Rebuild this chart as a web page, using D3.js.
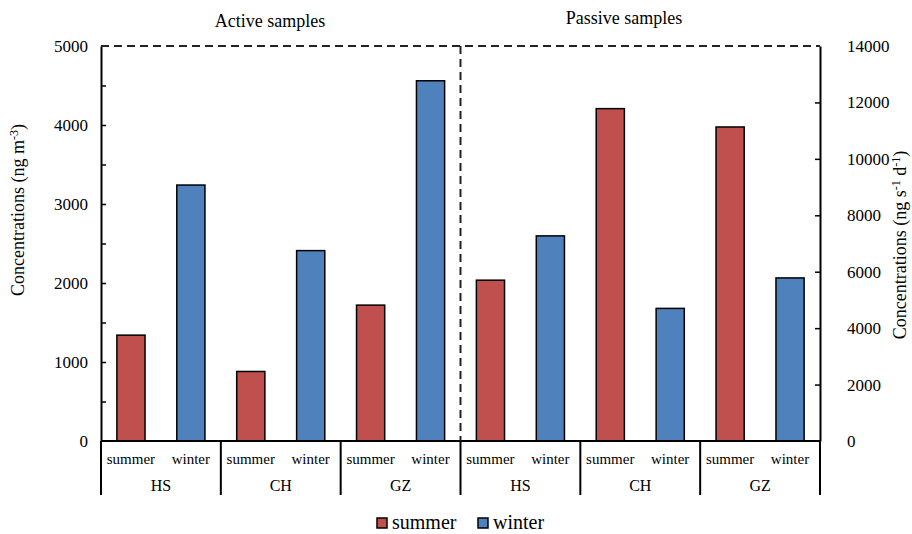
<!DOCTYPE html>
<html>
<head>
<meta charset="utf-8">
<script src="https://cdn.jsdelivr.net/npm/d3@7"></script>
<style>
  body { margin: 0; background: #fff; }
</style>
</head>
<body>
<div id="chart"></div>
<script>
// data
var sites = ["HS", "CH", "GZ"];
var seasons = ["summer", "winter"];
var panels = ["Active samples", "Passive samples"];
var activeSummer = [1340, 880, 1720];
var activeWinter = [3240, 2410, 4560];
var passiveSummer = [5700, 11780, 11130];
var passiveWinter = [7270, 4700, 5780];
var leftTicks = [0, 1000, 2000, 3000, 4000, 5000];
var rightTicks = [0, 2000, 4000, 6000, 8000, 10000, 12000, 14000];

var colors = { summer: "#C0504D", winter: "#4F81BD" };
var FONT = "'Liberation Serif', 'Times New Roman', serif";

var W = 912, H = 534;
var x0 = 101, x1 = 820, yTop = 46, yBase = 441;

var svg = d3.select("#chart").append("svg").attr("width", W).attr("height", H)
  .attr("font-family", FONT);

// groups: panel + site
var groups = [];
panels.forEach(function (p, pi) {
  sites.forEach(function (s, si) {
    groups.push({ key: p + "-" + s, panel: pi, site: s,
      summer: pi == 0 ? activeSummer[si] : passiveSummer[si],
      winter: pi == 0 ? activeWinter[si] : passiveWinter[si] });
  });
});

var xg = d3.scaleBand().domain(groups.map(function (d) { return d.key; })).range([x0, x1]);
var xs = d3.scaleBand().domain(seasons).range([0, xg.bandwidth()]).paddingInner(0.53).paddingOuter(0.265);

var yL = d3.scaleLinear().domain([0, 5000]).range([yBase, yTop]);
var yR = d3.scaleLinear().domain([0, 14000]).range([yBase, yTop]);

// bars
var g = svg.selectAll(".grp").data(groups).enter().append("g")
  .attr("transform", function (d) { return "translate(" + xg(d.key) + ",0)"; });

g.selectAll("rect").data(function (d) {
  return seasons.map(function (s) { return { season: s, value: d[s], panel: d.panel }; });
}).enter().append("rect")
  .attr("x", function (d) { return xs(d.season); })
  .attr("width", xs.bandwidth())
  .attr("y", function (d) { return (d.panel == 0 ? yL : yR)(d.value); })
  .attr("height", function (d) { return yBase - (d.panel == 0 ? yL : yR)(d.value); })
  .attr("fill", function (d) { return colors[d.season]; })
  .attr("stroke", "#000").attr("stroke-width", 1.5);

// left axis
var axL = svg.append("g").attr("transform", "translate(" + x0 + ",0)")
  .call(d3.axisLeft(yL).tickValues(leftTicks).tickSize(0).tickPadding(13).tickFormat(d3.format("d")));
axL.attr("font-family", FONT).attr("font-size", 17);
axL.select(".domain").attr("stroke", "#000").attr("stroke-width", 2);
svg.append("g").attr("transform", "translate(" + x0 + ",0)")
  .call(d3.axisRight(yL).tickValues(d3.range(500, 5000, 500)).tickSize(5).tickFormat(""))
  .call(function (a) { a.select(".domain").remove(); a.selectAll("line").attr("stroke-width", 1.5); });

// right axis
var axR = svg.append("g").attr("transform", "translate(" + x1 + ",0)")
  .call(d3.axisRight(yR).tickValues(rightTicks).tickSize(0).tickPadding(27).tickFormat(d3.format("d")));
axR.attr("font-family", FONT).attr("font-size", 17);
axR.select(".domain").attr("stroke", "#000").attr("stroke-width", 2);
svg.append("g").attr("transform", "translate(" + x1 + ",0)")
  .call(d3.axisLeft(yR).tickValues(d3.range(2000, 14000, 2000)).tickSize(5).tickFormat(""))
  .call(function (a) { a.select(".domain").remove(); a.selectAll("line").attr("stroke-width", 1.5); });

// baseline and top dashed border
svg.append("line").attr("x1", x0).attr("x2", x1).attr("y1", yBase).attr("y2", yBase)
  .attr("stroke", "#000").attr("stroke-width", 2);
svg.append("line").attr("x1", x0).attr("x2", x1).attr("y1", yTop).attr("y2", yTop)
  .attr("stroke", "#222").attr("stroke-width", 2).attr("stroke-dasharray", "8,5");

// panel divider
var xMid = xg(groups[3].key);
svg.append("line").attr("x1", xMid).attr("x2", xMid).attr("y1", yTop).attr("y2", yBase)
  .attr("stroke", "#222").attr("stroke-width", 2).attr("stroke-dasharray", "8,5");

// group separators below axis
svg.selectAll(".sep").data(groups.map(function (d) { return xg(d.key); }).concat([x1]))
  .enter().append("line")
  .attr("x1", function (d) { return d; }).attr("x2", function (d) { return d; })
  .attr("y1", yBase).attr("y2", 495)
  .attr("stroke", "#000").attr("stroke-width", 2);

// category labels
g.selectAll(".season").data(seasons).enter().append("text")
  .attr("x", function (s) { return xs(s) + xs.bandwidth() / 2; })
  .attr("y", 464).attr("text-anchor", "middle").attr("font-size", 15)
  .text(function (s) { return s; });
g.append("text").attr("x", xg.bandwidth() / 2).attr("y", 491)
  .attr("text-anchor", "middle").attr("font-size", 16)
  .text(function (d) { return d.site; });

// panel titles
svg.append("text").attr("x", 270).attr("y", 27).attr("text-anchor", "middle")
  .attr("font-size", 18).text(panels[0]);
svg.append("text").attr("x", 624).attr("y", 24).attr("text-anchor", "middle")
  .attr("font-size", 18).text(panels[1]);

// axis titles
var tl = svg.append("text").attr("transform", "translate(24,210) rotate(-90)")
  .attr("text-anchor", "middle").attr("font-size", 18);
tl.append("tspan").text("Concentrations (ng m");
tl.append("tspan").attr("dy", -6).attr("font-size", 12).text("-3");
tl.append("tspan").attr("dy", 6).text(")");

var tr = svg.append("text").attr("transform", "translate(906,245) rotate(-90)")
  .attr("text-anchor", "middle").attr("font-size", 18);
tr.append("tspan").text("Concentrations (ng s");
tr.append("tspan").attr("dy", -6).attr("font-size", 12).text("-1");
tr.append("tspan").attr("dy", 6).text(" d");
tr.append("tspan").attr("dy", -6).attr("font-size", 12).text("-1");
tr.append("tspan").attr("dy", 6).text(")");

// legend
var legX = [377, 478];
var lg = svg.selectAll(".leg").data(seasons).enter().append("g")
  .attr("transform", function (d, i) { return "translate(" + legX[i] + ",518)"; });
lg.append("rect").attr("width", 10).attr("height", 10)
  .attr("fill", function (d) { return colors[d]; }).attr("stroke", "#000").attr("stroke-width", 1.5);
lg.append("text").attr("x", 15).attr("y", 11).attr("font-size", 20).text(function (d) { return d; });
</script>
</body>
</html>
